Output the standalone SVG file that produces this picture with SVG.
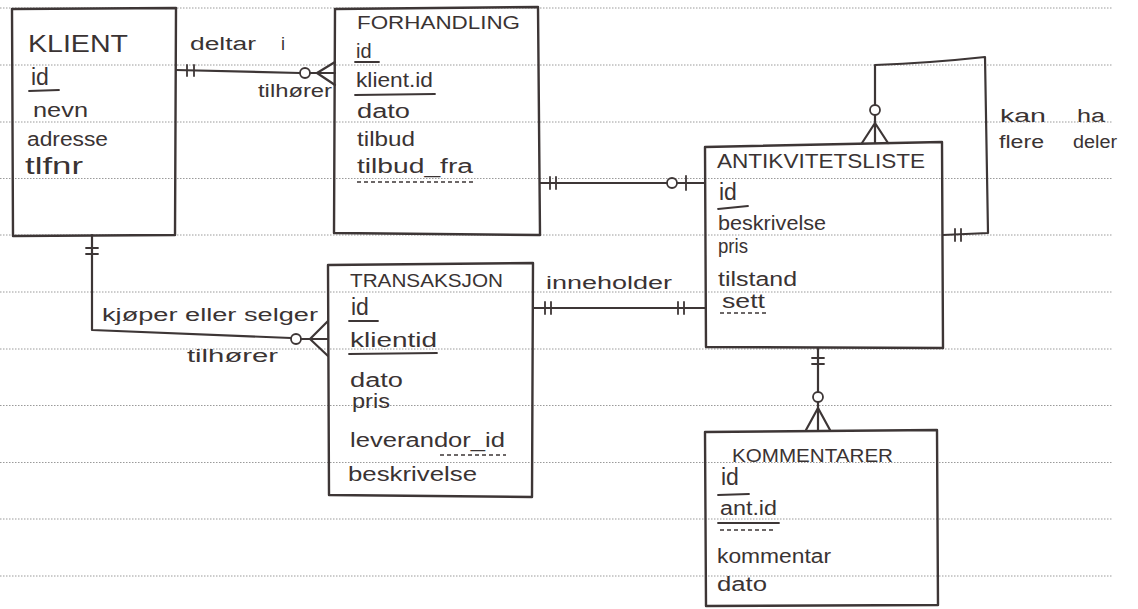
<svg xmlns="http://www.w3.org/2000/svg" width="1138" height="609" viewBox="0 0 1138 609">
  <style>
    .rule { stroke: #9a9a9a; stroke-width: 1; stroke-dasharray: 1.5 1.5; }
    .box { fill: none; stroke: #3d3636; stroke-width: 2.4; stroke-linejoin: round; }
    .ln { fill: none; stroke: #3d3636; stroke-width: 2.2; stroke-linecap: round; stroke-linejoin: round; }
    .tk { stroke: #3d3636; stroke-width: 1.8; stroke-linecap: round; }
    .ring { fill: #ffffff; stroke: #3d3636; stroke-width: 1.8; }
    .ul { stroke: #3d3636; stroke-width: 1.8; stroke-linecap: round; }
    .dul { stroke: #3d3636; stroke-width: 1.4; stroke-dasharray: 4 3; }
    text { font-family: "Liberation Sans", Arial, sans-serif; fill: #3a3333; }
    .title { font-size: 20px; }
    .attr { font-size: 20px; }
    .key { font-size: 23px; }
    .lbl { font-size: 18px; }
  </style>

  <rect width="1138" height="609" fill="#ffffff"/>

  <!-- ruled paper -->
  <g id="paper">
    <line class="rule" x1="0" y1="8" x2="1112" y2="8"/>
    <line class="rule" x1="0" y1="65" x2="1112" y2="65"/>
    <line class="rule" x1="0" y1="122" x2="1112" y2="122"/>
    <line class="rule" x1="0" y1="178.5" x2="1112" y2="178.5"/>
    <line class="rule" x1="0" y1="235" x2="1112" y2="235"/>
    <line class="rule" x1="0" y1="292" x2="1112" y2="292"/>
    <line class="rule" x1="0" y1="349" x2="1112" y2="349"/>
    <line class="rule" x1="0" y1="405.5" x2="1112" y2="405.5"/>
    <line class="rule" x1="0" y1="462.5" x2="1112" y2="462.5"/>
    <line class="rule" x1="0" y1="519" x2="1112" y2="519"/>
    <line class="rule" x1="0" y1="576" x2="1112" y2="576"/>
  </g>

  <!-- relationships -->
  <g id="connectors">
    <!-- KLIENT - FORHANDLING -->
    <path class="ln" d="M176,70 L300,73"/>
    <line class="tk" x1="187" y1="65" x2="187" y2="76"/>
    <line class="tk" x1="194" y1="65" x2="194" y2="76"/>
    <circle class="ring" cx="305" cy="73" r="5"/>
    <path class="ln" d="M310,73 L335,73 M317,73 L335,62 M317,73 L335,85"/>
    <text class="lbl" x="190" y="50" textLength="66" lengthAdjust="spacingAndGlyphs">deltar</text>
    <text class="lbl" x="281" y="50">i</text>
    <text class="lbl" x="258" y="97" textLength="74" lengthAdjust="spacingAndGlyphs">tilhører</text>

    <!-- FORHANDLING - ANTIKVITETSLISTE -->
    <path class="ln" d="M540,183 L667,183 M677,183 L705,183"/>
    <line class="tk" x1="550" y1="177" x2="550" y2="189"/>
    <line class="tk" x1="556" y1="177" x2="556" y2="189"/>
    <circle class="ring" cx="672" cy="183" r="5"/>
    <line class="tk" x1="686" y1="176" x2="686" y2="190"/>

    <!-- TRANSAKSJON - ANTIKVITETSLISTE -->
    <path class="ln" d="M533,308 L705,308"/>
    <line class="tk" x1="545" y1="302" x2="545" y2="314"/>
    <line class="tk" x1="551" y1="302" x2="551" y2="314"/>
    <line class="tk" x1="678" y1="302" x2="678" y2="314"/>
    <line class="tk" x1="684" y1="302" x2="684" y2="314"/>
    <text class="lbl" x="546" y="289" textLength="126" lengthAdjust="spacingAndGlyphs">inneholder</text>

    <!-- KLIENT - TRANSAKSJON -->
    <path class="ln" d="M92,235 L92,330 L291,338"/>
    <line class="tk" x1="86" y1="248" x2="98" y2="248"/>
    <line class="tk" x1="86" y1="254" x2="98" y2="254"/>
    <circle class="ring" cx="296" cy="339" r="5"/>
    <path class="ln" d="M301,339 L328,339 M310,339 L328,321 M310,339 L328,356"/>
    <text class="lbl" x="102" y="321" textLength="216" lengthAdjust="spacingAndGlyphs">kjøper eller selger</text>
    <text class="lbl" x="187" y="362" textLength="91" lengthAdjust="spacingAndGlyphs">tilhører</text>

    <!-- ANTIKVITETSLISTE - KOMMENTARER -->
    <path class="ln" d="M818,348 L818,392 M818,402 L818,430"/>
    <line class="tk" x1="812" y1="358" x2="824" y2="358"/>
    <line class="tk" x1="812" y1="364" x2="824" y2="364"/>
    <circle class="ring" cx="818" cy="397" r="5"/>
    <path class="ln" d="M818,408 L806,430 M818,408 L830,430"/>

    <!-- ANTIKVITETSLISTE self relation -->
    <path class="ln" d="M875,105 L875,65 Q930,63 985,57 L988,233 L943,235"/>
    <circle class="ring" cx="875" cy="110" r="5"/>
    <path class="ln" d="M875,115 L875,143 M875,123 L862,143 M875,123 L888,143"/>
    <line class="tk" x1="955" y1="229" x2="955" y2="241"/>
    <line class="tk" x1="961" y1="229" x2="961" y2="241"/>
    <text class="lbl" x="1000" y="122" textLength="46" lengthAdjust="spacingAndGlyphs">kan</text>
    <text class="lbl" x="1077" y="122" textLength="28" lengthAdjust="spacingAndGlyphs">ha</text>
    <text class="lbl" x="999" y="148" textLength="45" lengthAdjust="spacingAndGlyphs">flere</text>
    <text class="lbl" x="1073" y="148" textLength="44" lengthAdjust="spacingAndGlyphs">deler</text>
  </g>

  <!-- KLIENT -->
  <g id="klient">
    <path class="box" d="M12,9 L176,8 L175,235 L13,236 Z"/>
    <text x="28" y="52" font-size="24" textLength="100" lengthAdjust="spacingAndGlyphs">KLIENT</text>
    <text class="key" x="31" y="85">id</text>
    <line class="ul" x1="29" y1="91" x2="59" y2="90"/>
    <text class="attr" x="33" y="117" textLength="55" lengthAdjust="spacingAndGlyphs">nevn</text>
    <text class="attr" x="27" y="146" textLength="81" lengthAdjust="spacingAndGlyphs">adresse</text>
    <text x="25" y="174" font-size="24" textLength="58" lengthAdjust="spacingAndGlyphs">tlfnr</text>
  </g>

  <!-- FORHANDLING -->
  <g id="forhandling">
    <path class="box" d="M335,9 L538,7 L540,235 L334,233 Z"/>
    <text x="357" y="29" font-size="18" textLength="163" lengthAdjust="spacingAndGlyphs">FORHANDLING</text>
    <text class="attr" x="356" y="58">id</text>
    <line class="ul" x1="355" y1="62" x2="379" y2="62"/>
    <text class="attr" x="356" y="87" textLength="77" lengthAdjust="spacingAndGlyphs">klient.id</text>
    <line class="ul" x1="355" y1="95" x2="435" y2="94"/>
    <text class="attr" x="357" y="118" textLength="53" lengthAdjust="spacingAndGlyphs">dato</text>
    <text class="attr" x="357" y="146" textLength="58" lengthAdjust="spacingAndGlyphs">tilbud</text>
    <text class="attr" x="357" y="173" textLength="116" lengthAdjust="spacingAndGlyphs">tilbud_fra</text>
    <line class="dul" x1="357" y1="182" x2="474" y2="182"/>
  </g>

  <!-- ANTIKVITETSLISTE -->
  <g id="antikvitetsliste">
    <path class="box" d="M705,147 L942,142 L943,348 L706,347 Z"/>
    <text class="title" x="717" y="168" textLength="208" lengthAdjust="spacingAndGlyphs">ANTIKVITETSLISTE</text>
    <text class="key" x="719" y="200">id</text>
    <line class="ul" x1="718" y1="209" x2="748" y2="206"/>
    <text class="attr" x="718" y="230" textLength="108" lengthAdjust="spacingAndGlyphs">beskrivelse</text>
    <text class="attr" x="718" y="253" textLength="30" lengthAdjust="spacingAndGlyphs">pris</text>
    <text class="attr" x="718" y="286" textLength="79" lengthAdjust="spacingAndGlyphs">tilstand</text>
    <text class="attr" x="722" y="308" textLength="43" lengthAdjust="spacingAndGlyphs">sett</text>
    <line class="dul" x1="720" y1="313" x2="766" y2="313"/>
  </g>

  <!-- TRANSAKSJON -->
  <g id="transaksjon">
    <path class="box" d="M328,265 L533,263 L532,497 L329,495 Z"/>
    <text x="350" y="287" font-size="18" textLength="153" lengthAdjust="spacingAndGlyphs">TRANSAKSJON</text>
    <text class="key" x="351" y="315">id</text>
    <line class="ul" x1="349" y1="321" x2="378" y2="321"/>
    <text class="attr" x="350" y="347" textLength="87" lengthAdjust="spacingAndGlyphs">klientid</text>
    <line class="ul" x1="349" y1="354" x2="437" y2="353"/>
    <text class="attr" x="350" y="387" textLength="53" lengthAdjust="spacingAndGlyphs">dato</text>
    <text class="attr" x="352" y="408" textLength="38" lengthAdjust="spacingAndGlyphs">pris</text>
    <text class="attr" x="350" y="447" textLength="155" lengthAdjust="spacingAndGlyphs">leverandor_id</text>
    <line class="dul" x1="440" y1="455" x2="506" y2="455"/>
    <text class="attr" x="348" y="481" textLength="129" lengthAdjust="spacingAndGlyphs">beskrivelse</text>
  </g>

  <!-- KOMMENTARER -->
  <g id="kommentarer">
    <path class="box" d="M705,432 L937,430 L938,605 L706,606 Z"/>
    <text x="732" y="462" font-size="18" textLength="161" lengthAdjust="spacingAndGlyphs">KOMMENTARER</text>
    <text class="key" x="721" y="485">id</text>
    <line class="ul" x1="718" y1="495" x2="749" y2="494"/>
    <text class="attr" x="720" y="515" textLength="57" lengthAdjust="spacingAndGlyphs">ant.id</text>
    <line class="ul" x1="718" y1="523" x2="779" y2="523"/>
    <line class="dul" x1="720" y1="530" x2="776" y2="530"/>
    <text class="attr" x="717" y="563" textLength="114" lengthAdjust="spacingAndGlyphs">kommentar</text>
    <text class="attr" x="717" y="591" textLength="50" lengthAdjust="spacingAndGlyphs">dato</text>
  </g>
</svg>
